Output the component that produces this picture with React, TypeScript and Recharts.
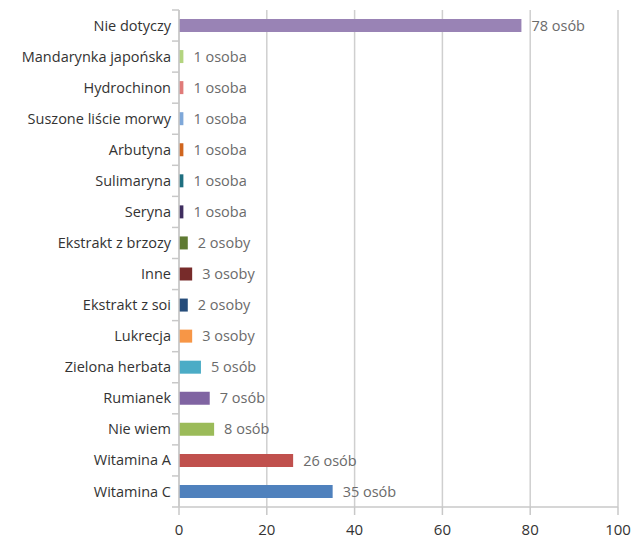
import React from "react";
import { BarChart, Bar, XAxis, YAxis, CartesianGrid, Cell, LabelList } from "recharts";

const categories = [
  "Nie dotyczy",
  "Mandarynka japońska",
  "Hydrochinon",
  "Suszone liście morwy",
  "Arbutyna",
  "Sulimaryna",
  "Seryna",
  "Ekstrakt z brzozy",
  "Inne",
  "Ekstrakt z soi",
  "Lukrecja",
  "Zielona herbata",
  "Rumianek",
  "Nie wiem",
  "Witamina A",
  "Witamina C",
];

const counts = [78, 1, 1, 1, 1, 1, 1, 2, 3, 2, 3, 5, 7, 8, 26, 35];

const colors = [
  "#9983b5", "#b3d47f", "#e07b79", "#7fa8d9", "#d0651e", "#1f6f80",
  "#3f2d5f", "#5f7a32", "#772b2a", "#254c7a", "#f79646", "#4bacc6",
  "#8064a2", "#9bbb59", "#c0504d", "#4f81bd",
];

const xTicks = [0, 20, 40, 60, 80, 100];

const data = categories.map((name, i) => ({ name, value: counts[i] }));

const W = 632;
const H = 541;
const TOP = 10;
const BOTTOM = 34;
const BAND = (H - TOP - BOTTOM) / categories.length;
const FONT = "'Open Sans', Lato, sans-serif";

// Polish plural: 1 osoba, 2-4 osoby, 5+ osób
const people = (n: number) => {
  if (n === 1) return `${n} osoba`;
  const d = n % 10;
  const t = n % 100;
  if (d >= 2 && d <= 4 && (t < 12 || t > 14)) return `${n} osoby`;
  return `${n} osób`;
};

const CategoryTick = (props: any) => {
  const { x, y, payload, index } = props;
  const last = index === categories.length - 1;
  return (
    <g>
      <line x1={x + 1} x2={x + 8} y1={y - BAND / 2} y2={y - BAND / 2} stroke="#c8c8c8" strokeWidth={1.5} />
      {last && (
        <line x1={x + 1} x2={x + 8} y1={y + BAND / 2} y2={y + BAND / 2} stroke="#c8c8c8" strokeWidth={1.5} />
      )}
      <text x={x} y={y} dy="0.35em" textAnchor="end" fill="#333" fontSize={14.5} fontFamily={FONT}>
        {payload.value}
      </text>
    </g>
  );
};

export default function App() {
  return (
    <div style={{ position: "absolute", left: 0, top: 0, width: W, height: H, background: "#fff" }}>
      <BarChart
        width={W}
        height={H}
        data={data}
        layout="vertical"
        margin={{ top: TOP, right: 14, bottom: 0, left: 0 }}
      >
        <CartesianGrid horizontal={false} stroke="#cfcfcf" strokeWidth={1.5} />
        <XAxis
          type="number"
          domain={[0, 100]}
          ticks={xTicks}
          height={BOTTOM}
          axisLine={{ stroke: "#c8c8c8", strokeWidth: 1.5 }}
          tickLine={{ stroke: "#c8c8c8", strokeWidth: 1.5 }}
          tickSize={8}
          tickMargin={9}
          tick={{ fill: "#333", fontSize: 15, fontFamily: FONT }}
        />
        <YAxis
          type="category"
          dataKey="name"
          width={179}
          axisLine={{ stroke: "#c8c8c8", strokeWidth: 1.5 }}
          tickLine={false}
          tickSize={0}
          tickMargin={8}
          tick={<CategoryTick />}
          interval={0}
        />
        <Bar dataKey="value" barSize={13} isAnimationActive={false}>
          {data.map((d, i) => (
            <Cell key={d.name} fill={colors[i]} />
          ))}
          <LabelList
            dataKey="value"
            position="right"
            offset={10}
            formatter={(v: any) => people(Number(v))}
            style={{ fill: "#6b6b6b", fontSize: 14.5, fontFamily: FONT }}
          />
        </Bar>
      </BarChart>
    </div>
  );
}
